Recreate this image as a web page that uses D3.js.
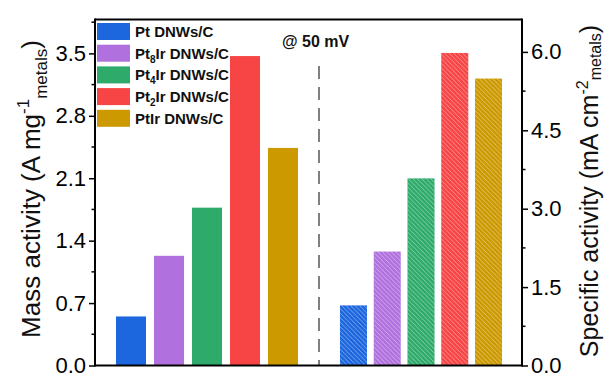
<!DOCTYPE html>
<html>
<head>
<meta charset="utf-8">
<script src="https://cdn.jsdelivr.net/npm/d3@7"></script>
<style>
  html, body { margin: 0; padding: 0; background: #fff; }
  svg { display: block; font-family: "Liberation Sans", Arial, sans-serif; }
</style>
</head>
<body>
<svg id="chart" width="605" height="378"></svg>
<script>
// Catalysts (legend order) with base name parts: prefix, subscript, suffix
const catalysts = ["Pt DNWs/C", "Pt8Ir DNWs/C", "Pt4Ir DNWs/C", "Pt2Ir DNWs/C", "PtIr DNWs/C"];
const labelParts = [
  ["Pt DNWs/C", "", ""],
  ["Pt", "8", "Ir DNWs/C"],
  ["Pt", "4", "Ir DNWs/C"],
  ["Pt", "2", "Ir DNWs/C"],
  ["PtIr DNWs/C", "", ""]
];
const colors = ["#1C66DE", "#B071DE", "#2EAA6A", "#F74444", "#CC9900"];

// Mass activity (A mg^-1 metals) and specific activity (mA cm^-2 metals) at 50 mV
const massActivity = [0.55, 1.23, 1.77, 3.47, 2.44];
const specificActivity = [1.15, 2.18, 3.58, 5.98, 5.49];

const massTicks = [0.0, 0.7, 1.4, 2.1, 2.8, 3.5];
const specTicks = [0.0, 1.5, 3.0, 4.5, 6.0];

const svg = d3.select("#chart");
const plot = { left: 95, right: 522, top: 19.5, bottom: 365.5 };

const yMass = d3.scaleLinear().domain([0, 3.88]).range([plot.bottom, plot.top]);
const ySpec = d3.scaleLinear().domain([0, 6.62]).range([plot.bottom, plot.top]);

const xMass = d3.scaleBand().domain(catalysts).range([112, 302]).paddingInner(0.21).paddingOuter(0.105);
const xSpec = d3.scaleBand().domain(catalysts).range([336.6, 505.4]).paddingInner(0.2).paddingOuter(0.1);

// hatch pattern for the specific-activity bars
const defs = svg.append("defs");
const hatch = defs.append("pattern")
  .attr("id", "hatch").attr("patternUnits", "userSpaceOnUse")
  .attr("width", 4.5).attr("height", 4.5);
hatch.append("path")
  .attr("d", "M0,0 L4.5,4.5 M-1,3.5 L1,5.5 M3.5,-1 L5.5,1")
  .attr("stroke", "#fff").attr("stroke-opacity", 0.6).attr("stroke-width", 0.7);

// mass activity bars
svg.append("g").selectAll("rect").data(massActivity).join("rect")
  .attr("x", (d, i) => xMass(catalysts[i]))
  .attr("width", xMass.bandwidth())
  .attr("y", d => yMass(d))
  .attr("height", d => yMass(0) - yMass(d))
  .attr("fill", (d, i) => colors[i]);

// specific activity bars with hatch overlay
const specG = svg.append("g");
specG.selectAll("rect.fill").data(specificActivity).join("rect")
  .attr("class", "fill")
  .attr("x", (d, i) => xSpec(catalysts[i]))
  .attr("width", xSpec.bandwidth())
  .attr("y", d => ySpec(d))
  .attr("height", d => ySpec(0) - ySpec(d))
  .attr("fill", (d, i) => colors[i]);
specG.selectAll("rect.hatch").data(specificActivity).join("rect")
  .attr("class", "hatch")
  .attr("x", (d, i) => xSpec(catalysts[i]))
  .attr("width", xSpec.bandwidth())
  .attr("y", d => ySpec(d))
  .attr("height", d => ySpec(0) - ySpec(d))
  .attr("fill", "url(#hatch)");

// dashed divider between the two panels
svg.append("line")
  .attr("x1", 319).attr("x2", 319)
  .attr("y1", 66).attr("y2", plot.bottom)
  .attr("stroke", "#808080").attr("stroke-width", 2)
  .attr("stroke-dasharray", "13,8");

// frame: top and bottom lines
svg.append("line").attr("x1", plot.left).attr("x2", plot.right)
  .attr("y1", plot.top).attr("y2", plot.top)
  .attr("stroke", "#000").attr("stroke-width", 2);
svg.append("line").attr("x1", plot.left).attr("x2", plot.right)
  .attr("y1", plot.bottom).attr("y2", plot.bottom)
  .attr("stroke", "#000").attr("stroke-width", 2);

// left axis
const leftAxis = d3.axisLeft(yMass).tickValues(massTicks)
  .tickFormat(d3.format(".1f")).tickSizeInner(6).tickSizeOuter(0).tickPadding(3);
const gL = svg.append("g").attr("transform", `translate(${plot.left},0)`).call(leftAxis);
gL.select(".domain").attr("stroke-width", 2).attr("d", `M0,${plot.top - 1}V${plot.bottom + 1}`);
gL.selectAll(".tick line").attr("stroke-width", 1.5);
gL.selectAll(".tick text").attr("font-size", 22).attr("fill", "#000")
  .attr("font-family", "Liberation Sans, Arial, sans-serif");
const leftMinor = d3.range(0.35, 3.88, 0.7);
svg.append("g").selectAll("line").data(leftMinor).join("line")
  .attr("x1", plot.left - 3.5).attr("x2", plot.left)
  .attr("y1", d => yMass(d)).attr("y2", d => yMass(d))
  .attr("stroke", "#000").attr("stroke-width", 1.5);

// right axis
const rightAxis = d3.axisRight(ySpec).tickValues(specTicks)
  .tickFormat(d3.format(".1f")).tickSizeInner(6).tickSizeOuter(0).tickPadding(3);
const gR = svg.append("g").attr("transform", `translate(${plot.right},0)`).call(rightAxis);
gR.select(".domain").attr("stroke-width", 2).attr("d", `M0,${plot.top - 1}V${plot.bottom + 1}`);
gR.selectAll(".tick line").attr("stroke-width", 1.5);
gR.selectAll(".tick text").attr("font-size", 22).attr("fill", "#000")
  .attr("font-family", "Liberation Sans, Arial, sans-serif");
const rightMinor = d3.range(0.75, 6.62, 1.5);
svg.append("g").selectAll("line").data(rightMinor).join("line")
  .attr("x1", plot.right).attr("x2", plot.right + 3.5)
  .attr("y1", d => ySpec(d)).attr("y2", d => ySpec(d))
  .attr("stroke", "#000").attr("stroke-width", 1.5);

// axis titles (rotated)
function axisTitle(x, y, size, main, sup, sub, subDrop) {
  const small = Math.round(size * 0.65);
  const t = svg.append("text")
    .attr("transform", `translate(${x},${y}) rotate(-90)`)
    .attr("text-anchor", "middle")
    .attr("font-size", size).attr("fill", "#111");
  t.append("tspan").text(main);
  t.append("tspan").attr("font-size", small).attr("dy", -size * 0.42).text(sup);
  t.append("tspan").attr("font-size", small).attr("dy", size * 0.42 + subDrop).text(sub);
  t.append("tspan").attr("dy", -subDrop).text(")");
}
axisTitle(40, 189, 26, "Mass activity (A mg", "-1", "metals", 7);
axisTitle(598, 191, 25, "Specific activity (mA cm", "-2", "metals", 3);

// legend
const legend = svg.append("g");
const rowY = d => 31.5 + d * 21.7;
labelParts.forEach((p, i) => {
  legend.append("rect")
    .attr("x", 97).attr("y", rowY(i) - 8.5)
    .attr("width", 33).attr("height", 17)
    .attr("fill", colors[i]);
  const t = legend.append("text")
    .attr("x", 135).attr("y", rowY(i) + 5.5)
    .attr("font-size", 15).attr("font-weight", "bold").attr("fill", "#111");
  t.append("tspan").text(p[0]);
  if (p[1]) {
    t.append("tspan").attr("font-size", 10).attr("dy", 4).text(p[1]);
    t.append("tspan").attr("dy", -4).text(p[2]);
  }
});

// condition note
svg.append("text")
  .attr("x", 282).attr("y", 47)
  .attr("font-size", 16).attr("font-weight", "bold").attr("fill", "#111")
  .text("@ 50 mV");
</script>
</body>
</html>
